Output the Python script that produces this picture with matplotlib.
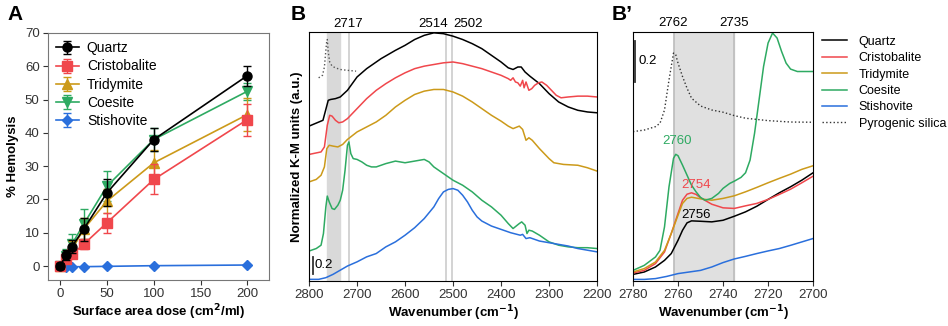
import numpy as np
import matplotlib
matplotlib.use("Agg")
import matplotlib.pyplot as plt

plt.rcParams['font.family'] = ['Liberation Sans', 'DejaVu Sans']
plt.rcParams['font.size'] = 9.5

# ---- panel A: hemolysis ----
dose = [0, 6.25, 12.5, 25, 50, 100, 200]
hemo_names = ['Quartz', 'Cristobalite', 'Tridymite', 'Coesite', 'Stishovite']
hemo_quartz = [0, 3.2, 5.8, 11, 22, 38, 57.2]
hemo_quartz_err = [1, 1.5, 2, 3.5, 4, 3.5, 3]
hemo_cristo = [0, 2, 3.5, 6.5, 13, 26, 44]
hemo_cristo_err = [0.5, 1, 1, 1.5, 3, 4.5, 4.8]
hemo_tridy = [0, 2.5, 5, 11, 19.5, 31, 45.5]
hemo_tridy_err = [0.5, 1.5, 2.5, 3.5, 3.5, 4, 5]
hemo_coes = [0, 3, 6.5, 12.5, 24, 38, 52.5]
hemo_coes_err = [1, 2, 3, 4.5, 4.5, 3.5, 2.5]
hemo_stish = [0, -0.2, -0.2, -0.2, -0.1, 0.1, 0.3]
hemo_stish_err = [0, 0, 0, 0, 0, 0, 0]

# ---- panel B: DRIFT spectra 2800-2200 (a.u., offset) ----
wn_q = [2800, 2771, 2760, 2755, 2745, 2735, 2720, 2710, 2700, 2680, 2670, 2650, 2620, 2600, 2580,
        2560, 2540, 2520, 2500, 2480, 2460, 2440, 2420, 2400, 2385, 2375, 2365, 2358, 2350, 2340,
        2320, 2300, 2280, 2260, 2240, 2220, 2200]
km_q = [1.86, 1.93, 2.17, 2.18, 2.19, 2.21, 2.29, 2.37, 2.45, 2.55, 2.59, 2.67, 2.77, 2.83, 2.90,
        2.95, 2.98, 2.97, 2.94, 2.90, 2.85, 2.79, 2.71, 2.63, 2.56, 2.54, 2.57, 2.57, 2.51, 2.46,
        2.37, 2.25, 2.15, 2.09, 2.05, 2.03, 2.02]
wn_c = [2800, 2775, 2768, 2762, 2757, 2752, 2745, 2738, 2730, 2720, 2700, 2680, 2660, 2640, 2620,
        2600, 2580, 2560, 2540, 2520, 2500, 2480, 2460, 2440, 2420, 2400, 2385, 2380, 2375, 2370,
        2365, 2360, 2355, 2352, 2348, 2342, 2336, 2330, 2322, 2315, 2305, 2295, 2285, 2275, 2260,
        2240, 2220, 2200]
km_c = [1.52, 1.55, 1.61, 1.87, 1.99, 1.98, 1.93, 1.90, 1.91, 1.95, 2.07, 2.19, 2.29, 2.37, 2.44,
        2.50, 2.55, 2.58, 2.60, 2.62, 2.63, 2.61, 2.58, 2.55, 2.51, 2.47, 2.43, 2.41, 2.44, 2.39,
        2.38, 2.34, 2.41, 2.32, 2.39, 2.29, 2.31, 2.35, 2.38, 2.39, 2.35, 2.29, 2.23, 2.20, 2.21,
        2.22, 2.22, 2.21]
wn_t = [2800, 2785, 2775, 2768, 2763, 2758, 2750, 2740, 2730, 2720, 2700, 2680, 2660, 2640, 2620,
        2600, 2580, 2560, 2540, 2520, 2500, 2480, 2460, 2440, 2420, 2400, 2385, 2375, 2362, 2355,
        2348, 2342, 2335, 2320, 2300, 2290, 2270, 2240, 2220, 2200]
km_t = [1.19, 1.22, 1.27, 1.37, 1.59, 1.63, 1.62, 1.61, 1.64, 1.70, 1.79, 1.85, 1.91, 1.99, 2.09,
        2.17, 2.24, 2.28, 2.30, 2.30, 2.27, 2.22, 2.15, 2.07, 1.99, 1.92, 1.86, 1.83, 1.86, 1.82,
        1.69, 1.72, 1.69, 1.59, 1.47, 1.42, 1.40, 1.39, 1.36, 1.32]
wn_co = [2800, 2785, 2775, 2770, 2765, 2762, 2758, 2752, 2747, 2740, 2735, 2730, 2725, 2720, 2717,
         2713, 2708, 2700, 2690, 2680, 2670, 2660, 2640, 2620, 2600, 2580, 2560, 2550, 2540, 2520,
         2500, 2480, 2460, 2440, 2420, 2400, 2385, 2375, 2362, 2357, 2350, 2346, 2342, 2335, 2320,
         2300, 2280, 2260, 2240, 2220, 2200]
km_co = [0.36, 0.39, 0.43, 0.57, 0.89, 1.02, 0.95, 0.87, 0.86, 0.91, 0.97, 1.09, 1.33, 1.63, 1.67,
         1.53, 1.47, 1.46, 1.43, 1.39, 1.37, 1.37, 1.41, 1.44, 1.42, 1.44, 1.46, 1.43, 1.37, 1.29,
         1.21, 1.15, 1.07, 0.97, 0.89, 0.79, 0.69, 0.63, 0.69, 0.71, 0.67, 0.57, 0.61, 0.60, 0.55,
         0.47, 0.43, 0.41, 0.40, 0.40, 0.39]
wn_s = [2800, 2780, 2765, 2750, 2735, 2720, 2700, 2680, 2660, 2640, 2620, 2600, 2580, 2560, 2540,
        2530, 2520, 2510, 2500, 2490, 2480, 2470, 2460, 2450, 2440, 2420, 2400, 2380, 2360, 2355,
        2348, 2340, 2330, 2320, 2300, 2280, 2260, 2240, 2220, 2200]
km_s = [0.02, 0.02, 0.04, 0.08, 0.13, 0.18, 0.23, 0.29, 0.33, 0.41, 0.47, 0.55, 0.64, 0.75, 0.89,
        0.99, 1.07, 1.10, 1.11, 1.09, 1.03, 0.95, 0.85, 0.77, 0.72, 0.66, 0.62, 0.58, 0.55, 0.56,
        0.51, 0.52, 0.50, 0.48, 0.46, 0.44, 0.42, 0.39, 0.37, 0.35]
wn_p = [2780, 2772, 2768, 2765, 2763, 2762, 2760, 2757, 2752, 2745, 2735, 2720, 2702]
km_p = [2.44, 2.47, 2.57, 2.77, 2.89, 2.90, 2.75, 2.63, 2.58, 2.56, 2.54, 2.53, 2.52]
lines_b = [2717, 2514, 2502]

# ---- panel B': zoom 2780-2700 ----
wz_q = [2780, 2775, 2770, 2766, 2763, 2760, 2758, 2756, 2754, 2750, 2745, 2740, 2735, 2730, 2725,
        2720, 2715, 2710, 2705, 2700]
kz_q = [0.033, 0.045, 0.07, 0.103, 0.137, 0.203, 0.253, 0.29, 0.30, 0.298, 0.295, 0.303, 0.323,
        0.345, 0.373, 0.407, 0.44, 0.47, 0.503, 0.54]
wz_c = [2780, 2775, 2770, 2766, 2763, 2760, 2758, 2756, 2754, 2752, 2750, 2745, 2740, 2735, 2730,
        2725, 2720, 2715, 2710, 2705, 2700]
kz_c = [0.04, 0.053, 0.087, 0.145, 0.237, 0.337, 0.403, 0.433, 0.44, 0.432, 0.415, 0.383, 0.365,
        0.362, 0.375, 0.387, 0.407, 0.432, 0.458, 0.49, 0.523]
wz_t = [2780, 2775, 2770, 2766, 2763, 2760, 2758, 2756, 2754, 2750, 2745, 2740, 2735, 2730, 2725,
        2720, 2715, 2710, 2705, 2700]
kz_t = [0.045, 0.062, 0.095, 0.153, 0.237, 0.328, 0.387, 0.412, 0.418, 0.41, 0.403, 0.412, 0.425,
        0.445, 0.467, 0.49, 0.512, 0.533, 0.557, 0.575]
wz_co = [2780, 2775, 2770, 2768, 2766, 2764, 2762, 2761, 2760, 2758, 2756, 2754, 2752, 2750, 2748,
         2745, 2742, 2740, 2737, 2735, 2732, 2730, 2728, 2726, 2724, 2722, 2720, 2718, 2716, 2714,
         2712, 2710, 2707, 2704, 2700]
kz_co = [0.053, 0.078, 0.12, 0.153, 0.27, 0.47, 0.612, 0.632, 0.625, 0.578, 0.528, 0.478, 0.445,
         0.417, 0.403, 0.412, 0.437, 0.462, 0.487, 0.498, 0.517, 0.54, 0.603, 0.737, 0.903, 1.07,
         1.187, 1.237, 1.212, 1.145, 1.087, 1.057, 1.045, 1.045, 1.045]
wz_s = [2780, 2775, 2770, 2765, 2760, 2755, 2750, 2745, 2740, 2735, 2730, 2725, 2720, 2715, 2710,
        2705, 2700]
kz_s = [0.008, 0.008, 0.012, 0.023, 0.037, 0.045, 0.053, 0.07, 0.092, 0.11, 0.123, 0.137, 0.15,
        0.162, 0.178, 0.195, 0.212]
wz_p = [2780, 2775, 2770, 2768, 2766, 2764, 2762, 2761, 2760, 2758, 2756, 2754, 2750, 2745, 2740,
        2735, 2730, 2720, 2710, 2700]
kz_p = [0.745, 0.753, 0.77, 0.787, 0.853, 1.003, 1.137, 1.128, 1.087, 1.02, 0.962, 0.912, 0.873,
        0.853, 0.842, 0.825, 0.812, 0.80, 0.793, 0.792]
band = [2762, 2735]

c_q, c_c, c_t, c_co, c_s = 'black', '#f0474c', '#cc9a1a', '#2eaa62', '#2a6fdc'
c_p = '#555555'
fs_lab = 9.5
fs_tick = 9.5

fig = plt.figure(figsize=(9.48, 3.26), dpi=100)

# ---------------- A ----------------
axA = fig.add_axes([0.0506, 0.1411, 0.2331, 0.7577])
series = [(hemo_quartz, hemo_quartz_err, c_q, 'o'),
          (hemo_cristo, hemo_cristo_err, c_c, 's'),
          (hemo_tridy, hemo_tridy_err, c_t, '^'),
          (hemo_coes, hemo_coes_err, c_co, 'v'),
          (hemo_stish, hemo_stish_err, c_s, 'D')]
for i in range(len(series) - 1, -1, -1):
    vals, err, col, mk = series[i]
    axA.errorbar(dose, vals, yerr=err, color=col, marker=mk, ms=6.5 if mk != 'D' else 5,
                 lw=1.2, capsize=3, elinewidth=1, label=hemo_names[i], zorder=3 + (5 - i))
h, l = axA.get_legend_handles_labels()
axA.legend(h[::-1], l[::-1], loc='upper left', frameon=False, fontsize=10,
           handlelength=1.6, labelspacing=0.3, borderaxespad=0.2, handletextpad=0.6)
axA.set_xlim(-13, 223)
axA.set_ylim(-4.2, 70)
axA.set_xticks([0, 50, 100, 150, 200])
axA.set_yticks(range(0, 71, 10))
axA.set_xlabel('Surface area dose (cm$^\\mathbf{2}$/ml)', fontweight='bold', fontsize=fs_lab,
               labelpad=1.5)
axA.set_ylabel('% Hemolysis', fontweight='bold', fontsize=fs_lab)
for s in axA.spines.values():
    s.set_color('#777777')
axA.tick_params(colors='#333333', labelsize=fs_tick, length=3.5, pad=2.5)
fig.text(0.008, 0.955, 'A', fontsize=15, fontweight='bold', va='center')

# ---------------- B ----------------
axB = fig.add_axes([0.326, 0.138, 0.3038, 0.7638])
axB.axvspan(band[0], band[1], color='#d9d9d9', zorder=0)
for v in lines_b:
    axB.axvline(v, color='#cccccc', lw=1.2, zorder=0)
axB.plot(wn_q, km_q, color=c_q, lw=1.1)
axB.plot(wn_c, km_c, color=c_c, lw=1.1)
axB.plot(wn_t, km_t, color=c_t, lw=1.1)
axB.plot(wn_co, km_co, color=c_co, lw=1.1)
axB.plot(wn_s, km_s, color=c_s, lw=1.1)
axB.plot(wn_p, km_p, color=c_p, lw=1, ls=':')
axB.set_xlim(2800, 2200)
axB.set_ylim(0, 2.99)
axB.set_yticks([])
axB.set_xticks(range(2800, 2199, -100))
axB.set_xlabel('Wavenumber (cm$^{\\mathbf{-1}}$)', fontweight='bold', fontsize=fs_lab,
               labelpad=1.5)
axB.set_ylabel('Normalized K-M units (a.u.)', fontweight='bold', fontsize=fs_lab)
axB.tick_params(labelsize=fs_tick, colors='#333333', length=3.5, pad=2.5)
axB.plot([2792, 2792], [0.09, 0.29], color='#333333', lw=1.3)
axB.text(2789, 0.19, '0.2', fontsize=fs_tick, va='center', ha='left')
axB.text(2719, 3.02, '2717', ha='center', va='bottom', fontsize=fs_tick)
axB.text(2511, 3.02, '2514', ha='right', va='bottom', fontsize=fs_tick)
axB.text(2500, 3.02, '2502', ha='left', va='bottom', fontsize=fs_tick)
fig.text(0.307, 0.955, 'B', fontsize=15, fontweight='bold', va='center')

# ---------------- B' ----------------
axC = fig.add_axes([0.6677, 0.138, 0.19, 0.7638])
axC.axvspan(band[0], band[1], color='#e0e0e0', zorder=0)
for v in band:
    axC.axvline(v, color='#bdbdbd', lw=1.2, zorder=0)
axC.plot(wz_q, kz_q, color=c_q, lw=1.1, label='Quartz')
axC.plot(wz_c, kz_c, color=c_c, lw=1.1, label='Cristobalite')
axC.plot(wz_t, kz_t, color=c_t, lw=1.1, label='Tridymite')
axC.plot(wz_co, kz_co, color=c_co, lw=1.1, label='Coesite')
axC.plot(wz_s, kz_s, color=c_s, lw=1.1, label='Stishovite')
axC.plot(wz_p, kz_p, color='#333333', lw=1, ls=':', label='Pyrogenic silica')
axC.set_xlim(2780, 2700)
axC.set_ylim(0, 1.242)
axC.set_yticks([])
axC.set_xticks([2780, 2760, 2740, 2720, 2700])
axC.set_xlabel('Wavenumber (cm$^{\\mathbf{-1}}$)', fontweight='bold', fontsize=fs_lab,
               labelpad=1.5)
axC.tick_params(labelsize=fs_tick, colors='#333333', length=3.5, pad=2.5)
axC.plot([2779, 2779], [0.995, 1.195], color='#333333', lw=1.3)
axC.text(2777.7, 1.095, '0.2', fontsize=fs_tick, va='center', ha='left')
axC.text(2762, 1.255, '2762', ha='center', va='bottom', fontsize=fs_tick)
axC.text(2735, 1.255, '2735', ha='center', va='bottom', fontsize=fs_tick)
axC.text(2760.5, 0.67, '2760', color=c_co, ha='center', va='bottom', fontsize=fs_tick)
axC.text(2752, 0.478, '2754', color=c_c, ha='center', va='center', fontsize=fs_tick)
axC.text(2752, 0.33, '2756', color='black', ha='center', va='center', fontsize=fs_tick)
axC.legend(loc='upper left', bbox_to_anchor=(1.03, 1.0), frameon=False, fontsize=9,
           handlelength=2.0, labelspacing=0.35, borderaxespad=0.0, handletextpad=0.9,
           borderpad=0.3)
fig.text(0.645, 0.955, 'B\u2019', fontsize=15, fontweight='bold', va='center')

fig.savefig('out.png', dpi=100)
